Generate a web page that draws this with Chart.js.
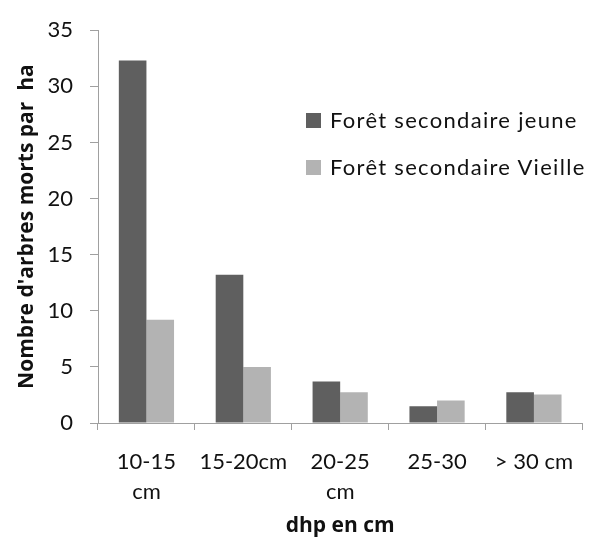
<!DOCTYPE html>
<html>
<head>
<meta charset="utf-8">
<script src="https://cdn.jsdelivr.net/npm/chart.js"></script>
<style>
  body { margin: 0; background: #fff; overflow: hidden; }
  #wrap { position: relative; width: 590px; height: 543px; }
  #legende { position: absolute; left: 306px; top: 106px; font-family: Lato, sans-serif; font-size: 22px; letter-spacing: 1.3px; color: #111; }
  #legende div { height: 47px; display: flex; align-items: flex-start; white-space: nowrap; }
  #legende span.box { display: inline-block; width: 15px; height: 15px; margin: 7px 9px 0 0; }
</style>
</head>
<body>
<div id="wrap">
  <canvas id="chartArbres" width="590" height="543"></canvas>
  <div id="legende"></div>
</div>
<script>
// classes de diamètre
var categories = [['10-15', 'cm'], '15-20cm', ['20-25', 'cm'], '25-30', '> 30 cm'];
var nomsSeries = ['Forêt secondaire jeune', 'Forêt secondaire Vieille'];
var foretJeune = [32.3, 13.2, 3.7, 1.5, 2.75];
var foretVieille = [9.2, 5.0, 2.75, 2.0, 2.55];
var couleurs = ['#5f5f5f', '#b3b3b3'];

var ctx = document.getElementById('chartArbres').getContext('2d');
var chartArbres = new Chart(ctx, {
    type: 'bar',
    data: {
        labels: categories,
        datasets: [
            { label: nomsSeries[0], data: foretJeune, backgroundColor: couleurs[0] },
            { label: nomsSeries[1], data: foretVieille, backgroundColor: couleurs[1] }
        ]
    },
    options: {
        responsive: false,
        animation: false,
        layout: { padding: { top: 27, right: 0, left: 0, bottom: 0 } },
        datasets: { bar: { categoryPercentage: 0.57, barPercentage: 1.0 } },
        plugins: { legend: { display: false }, tooltip: { enabled: false } },
        scales: {
            x: {
                afterFit: function (scale) { scale.height = 120; },
                grid: { drawOnChartArea: false, tickLength: 7, color: '#a0a0a0', offset: true },
                border: { color: '#a0a0a0' },
                ticks: { maxRotation: 0, autoSkip: false, padding: 17, color: '#111', font: { family: 'Lato', size: 22, lineHeight: 1.35 } },
                title: { display: true, text: 'dhp en cm', color: '#111', padding: { top: 8 }, font: { family: 'Open Sans', size: 21, weight: 'bold' } }
            },
            y: {
                min: 0,
                max: 35,
                afterFit: function (scale) { scale.width = 98; },
                grid: { drawOnChartArea: false, tickLength: 8, color: '#a0a0a0' },
                border: { color: '#a0a0a0' },
                ticks: { stepSize: 5, padding: 17, color: '#111', font: { family: 'Lato', size: 22 } },
                title: { display: true, text: "Nombre d'arbres morts par  ha", color: '#111', padding: { top: 14 }, font: { family: 'Open Sans', size: 21, weight: 'bold' } }
            }
        }
    }
});

// légende placée dans la zone du graphique, comme l'original
var leg = document.getElementById('legende');
nomsSeries.forEach(function (nom, i) {
    var row = document.createElement('div');
    row.innerHTML = '<span class="box" style="background:' + couleurs[i] + '"></span>' + nom;
    leg.appendChild(row);
});
</script>
</body>
</html>
